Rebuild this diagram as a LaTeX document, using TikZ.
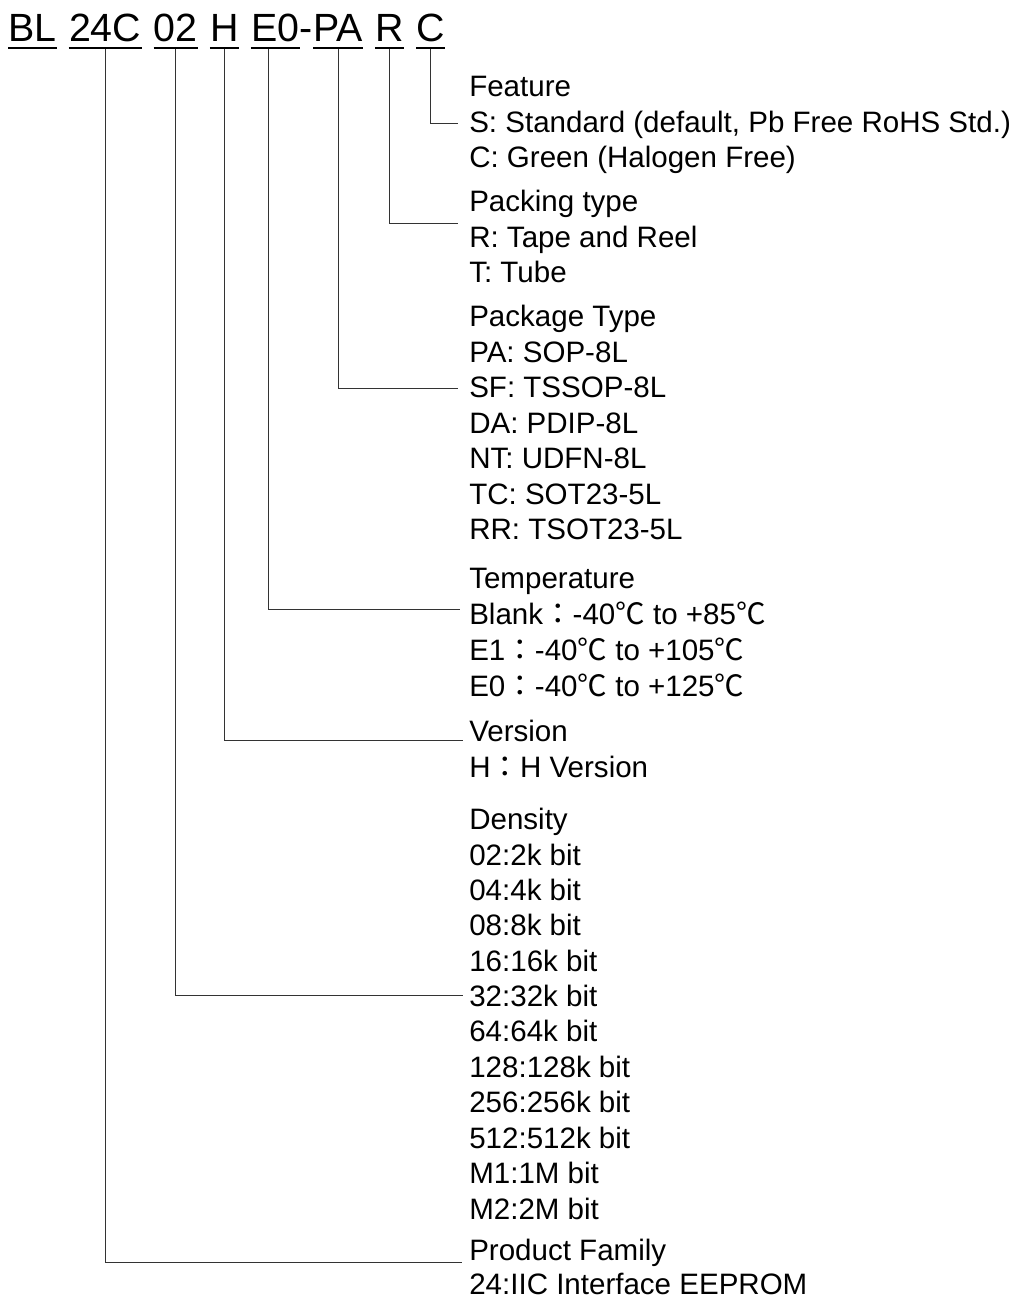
\documentclass[tikz,border=0pt]{standalone}
\usepackage{fontspec}
\setmainfont{Liberation Sans}
\newfontfamily\cjk{Noto Sans CJK TC}
\newcommand{\wcol}{{\cjk ：}}
\newcommand{\degc}{{\cjk ℃}}
\begin{document}
\begin{tikzpicture}[x=0.025cm,y=-0.025cm,
    part/.style={anchor=base west,inner sep=0pt,font=\fontsize{28}{34}\selectfont},
    item/.style={anchor=base west,inner sep=0pt,font=\fontsize{21}{25}\selectfont},
    uline/.style={line width=1.4pt},
    lead/.style={line width=0.7pt,draw=black!80}]
  \useasboundingbox (0,0) rectangle (1015,1298);
  % part number
  \node[part] (bl) at (8,41) {BL};
  \node[part] (fam) at ([xshift=3mm]bl.base east) {24C};
  \node[part] (den) at ([xshift=3mm]fam.base east) {02};
  \node[part] (ver) at ([xshift=3mm]den.base east) {H};
  \node[part] (tmp) at ([xshift=3mm]ver.base east) {E0};
  \node[part] (dsh) at (tmp.base east) {-};
  \node[part] (pkg) at (dsh.base east) {PA};
  \node[part] (pck) at ([xshift=3mm]pkg.base east) {R};
  \node[part] (ftr) at ([xshift=3mm]pck.base east) {C};
  \foreach \p in {bl,fam,den,ver,tmp,pkg,pck,ftr}
    \draw[uline] ([yshift=-5pt]\p.base west) -- ([yshift=-5pt]\p.base east);
  % ends of the leads
  \coordinate (e-ftr) at (458,123);
  \coordinate (e-pck) at (458,223);
  \coordinate (e-pkg) at (458,388);
  \coordinate (e-tmp) at (460,609);
  \coordinate (e-ver) at (463,740);
  \coordinate (e-den) at (463,995);
  \coordinate (e-fam) at (462,1262);
  % feature
  \node[item] (f0) at (469,96) {Feature};
  \node[item] (f1) at (469,132) {S: Standard (default, Pb Free RoHS Std.)};
  \node[item] (f2) at (469,167) {C: Green (Halogen Free)};
  % packing
  \node[item] (k0) at (469,211) {Packing type};
  \node[item] (k1) at (469,247) {R: Tape and Reel};
  \node[item] (k2) at (469,282) {T: Tube};
  % package
  \node[item] (p0) at (469,326) {Package Type};
  \node[item] (p1) at (469,362) {PA: SOP-8L};
  \node[item] (p2) at (469,397) {SF: TSSOP-8L};
  \node[item] (p3) at (469,433) {DA: PDIP-8L};
  \node[item] (p4) at (469,468) {NT: UDFN-8L};
  \node[item] (p5) at (469,504) {TC: SOT23-5L};
  \node[item] (p6) at (469,539) {RR: TSOT23-5L};
  % temperature
  \node[item] (t0) at (469,588) {Temperature};
  \node[item] (t1) at (469,624) {Blank\wcol-40\degc{} to +85\degc};
  \node[item] (t2) at (469,660) {E1\wcol-40\degc{} to +105\degc};
  \node[item] (t3) at (469,696) {E0\wcol-40\degc{} to +125\degc};
  % version
  \node[item] (v0) at (469,741) {Version};
  \node[item] (v1) at (469,777) {H\wcol H Version};
  % density
  \node[item] (d0) at (469,829) {Density};
  \node[item] (d1) at (469,865) {02:2k bit};
  \node[item] (d2) at (469,900) {04:4k bit};
  \node[item] (d3) at (469,935) {08:8k bit};
  \node[item] (d4) at (469,971) {16:16k bit};
  \node[item] (d5) at (469,1006) {32:32k bit};
  \node[item] (d6) at (469,1041) {64:64k bit};
  \node[item] (d7) at (469,1077) {128:128k bit};
  \node[item] (d8) at (469,1112) {256:256k bit};
  \node[item] (d9) at (469,1148) {512:512k bit};
  \node[item] (d10) at (469,1183) {M1:1M bit};
  \node[item] (d11) at (469,1219) {M2:2M bit};
  % family
  \node[item] (a0) at (469,1260) {Product Family};
  \node[item] (a1) at (469,1294) {24:IIC Interface EEPROM};
  % leads
  \draw[lead] ([yshift=-6pt]ftr.base) |- (e-ftr);
  \draw[lead] ([yshift=-6pt]pck.base) |- (e-pck);
  \draw[lead] ([yshift=-6pt]pkg.base) |- (e-pkg);
  \draw[lead] ([xshift=-5pt,yshift=-6pt]tmp.base) |- (e-tmp);
  \draw[lead] ([yshift=-6pt]ver.base) |- (e-ver);
  \draw[lead] ([yshift=-6pt]den.base) |- (e-den);
  \draw[lead] ([yshift=-6pt]fam.base) |- (e-fam);
\end{tikzpicture}
\end{document}
